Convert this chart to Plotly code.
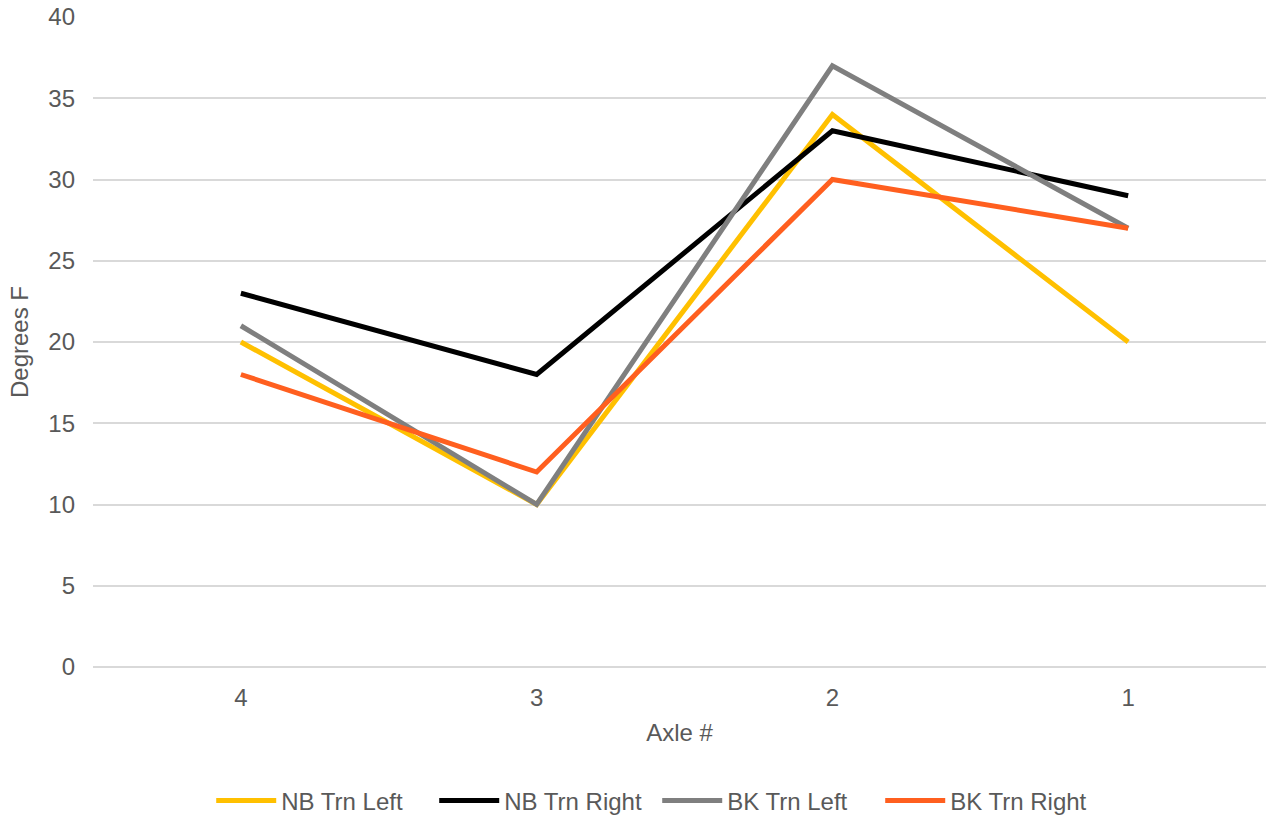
import plotly.graph_objects as go

# Axle positions (left to right) and temperature readings per run
axles = ["4", "3", "2", "1"]
nb_trn_left = [20, 10, 34, 20]
nb_trn_right = [23, 18, 33, 29]
bk_trn_left = [21, 10, 37, 27]
bk_trn_right = [18, 12, 30, 27]

series = [
    ("NB Trn Left", nb_trn_left, "#FFC000"),
    ("NB Trn Right", nb_trn_right, "#000000"),
    ("BK Trn Left", bk_trn_left, "#7F7F7F"),
    ("BK Trn Right", bk_trn_right, "#FF5F1F"),
]

FONT = "Liberation Sans, Arial, sans-serif"
TEXT = "#595959"
GRID = "#D9D9D9"

fig = go.Figure()
for name, vals, color in series:
    fig.add_trace(go.Scatter(
        x=axles, y=vals, name=name, mode="lines",
        line=dict(color=color, width=5),
    ))

fig.update_layout(
    width=1266, height=815,
    margin=dict(l=93, r=0, t=17, b=148),
    paper_bgcolor="white", plot_bgcolor="white",
    font=dict(family=FONT, size=24, color=TEXT),
    showlegend=True,
    legend=dict(
        orientation="h", x=0.481, xanchor="center",
        yref="container", y=0.0172, yanchor="middle",
        font=dict(family=FONT, size=24, color=TEXT),
        itemwidth=60,
        entrywidth=148, entrywidthmode="pixels",
    ),
)

fig.update_xaxes(
    type="category", range=[-0.5, 3.466],
    showgrid=False, zeroline=False, showline=False, ticks="",
    ticklabelstandoff=14,
    tickfont=dict(family=FONT, size=24, color=TEXT),
    title=dict(text="Axle #", standoff=14,
               font=dict(family=FONT, size=24, color=TEXT)),
)

fig.update_yaxes(
    range=[0, 40], dtick=5,
    showgrid=True, gridcolor=GRID, gridwidth=2,
    zeroline=True, zerolinecolor=GRID, zerolinewidth=2,
    showline=False, ticks="",
    ticklabelstandoff=17,
    tickfont=dict(family=FONT, size=24, color=TEXT),
    title=dict(text="Degrees F", standoff=12,
               font=dict(family=FONT, size=24, color=TEXT)),
)

fig.write_html("out.html")
